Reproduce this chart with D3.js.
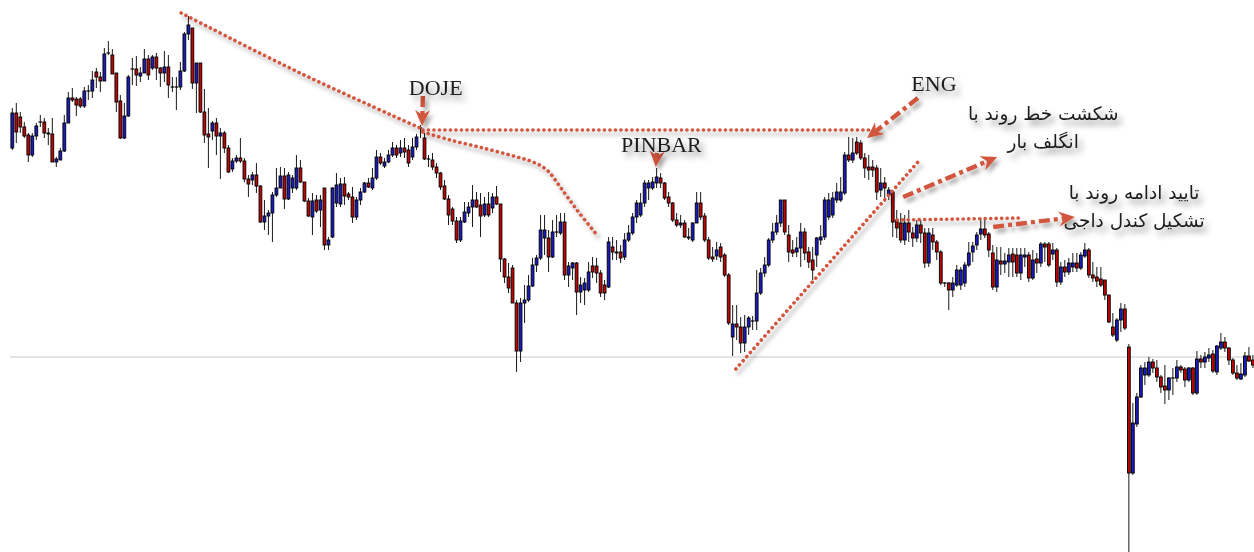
<!DOCTYPE html>
<html>
<head>
<meta charset="utf-8">
<script src="https://cdn.jsdelivr.net/npm/d3@7/dist/d3.min.js"></script>
<style>
  html, body { margin: 0; padding: 0; background: #fff; overflow: hidden; }
</style>
</head>
<body>
<div id="chart"></div>
<script>
// Candle prices (points), one entry per bar, left to right
const openP = [
  452,487,483,473,465,445,464,478,478,467, 466,438,440,449,477,502,501,501,494,509,
  509,528,523,519,547,545,527,499,462,484, 531,531,524,527,541,532,543,532,527,533,
  513,513,513,529,566,572,517,537,488,466, 469,477,464,467,452,431,439,442,439,421,
  420,425,414,378,384,387,405,412,424,401, 412,412,432,418,399,383,400,390,412,355,
  363,397,396,416,406,403,383,400,408,417, 412,422,443,434,438,445,452,447,452,450,
  443,453,472,462,441,440,433,427,414,401, 391,379,360,378,387,393,400,395,385,396,
  392,403,396,341,323,332,297,249,297,300, 314,335,342,362,362,343,368,367,378,325,
  332,337,308,310,310,334,334,327,315,313, 353,348,348,343,360,367,383,385,397,412,
  412,417,422,417,403,397,380,375,377,363, 360,377,397,384,360,343,344,353,345,325,
  263,276,273,257,273,279,279,307,327,335, 360,368,377,400,365,350,348,352,368,348,
  340,345,360,363,383,385,400,400,407,445, 440,458,457,442,433,433,432,410,417,405,
  408,380,377,360,377,367,362,375,367,337, 365,358,348,317,317,310,315,315,317,335,
  348,355,366,371,366,347,313,339,336,338, 346,345,327,343,345,322,341,337,356,356,
  346,350,318,333,328,333,337,332,344,350, 325,323,321,320,305,273,260,280,291,253,
  127,176,203,225,225,238,232,223,214,210, 222,222,233,231,220,232,207,241,238,242,
  246,228,252,258,252,240,227,221,225,244,240
]
const highP = [
  492,497,488,478,467,467,477,485,482,472, 482,443,452,485,508,512,503,503,513,515,
  529,532,528,552,559,551,527,505,497,525, 542,544,533,551,545,545,547,533,549,545,
  523,523,538,568,584,572,537,537,511,492, 479,482,472,469,455,442,445,462,442,425,
  428,437,415,400,390,408,432,433,432,428, 425,445,440,418,402,407,405,405,412,363,
  413,427,422,423,408,413,403,412,418,422, 432,450,447,442,450,458,455,460,462,455,
  462,466,475,467,445,447,437,428,420,405, 393,383,383,398,398,415,408,407,403,408,
  407,414,396,342,337,335,300,302,315,325, 342,345,385,385,370,380,385,387,387,338,
  338,338,323,322,338,343,342,330,320,363, 363,360,355,367,375,387,400,407,420,420,
  423,432,427,418,408,398,387,385,380,372, 378,408,408,387,363,353,358,357,347,327,
  295,295,283,285,284,284,330,332,343,362, 377,385,400,400,375,360,363,377,372,353,
  353,363,375,403,407,408,417,423,448,463, 462,463,460,447,445,440,435,432,423,413,
  410,390,387,385,390,373,380,380,372,372, 372,360,350,318,318,323,335,333,338,358,
  358,368,382,382,368,355,353,353,347,352, 352,352,352,352,348,350,347,358,358,358,
  357,352,338,340,342,347,347,348,357,352, 338,333,333,320,305,287,282,297,296,256,
  197,207,235,238,243,241,240,225,235,223, 232,240,235,233,233,233,249,245,248,252,
  250,255,267,263,253,242,235,237,248,253,245
]
const lowP = [
  450,457,467,462,438,443,460,473,462,455, 438,433,440,448,477,498,484,492,492,500,
  502,512,508,519,545,526,488,461,461,483, 515,514,518,527,520,530,520,513,518,502,
  508,490,510,528,560,511,487,487,457,432, 460,445,421,447,427,428,437,437,418,403,
  415,407,377,370,365,358,403,412,391,400, 407,410,417,398,383,365,387,373,350,350,
  362,393,393,395,400,377,380,395,407,412, 410,420,435,432,437,443,442,443,442,433,
  440,450,462,440,433,430,422,410,400,375, 375,357,358,377,383,373,392,363,383,383,
  387,395,328,317,307,297,228,238,277,298, 313,328,340,345,328,342,363,365,320,313,
  320,285,297,295,308,322,317,303,300,312, 340,340,337,340,358,365,377,383,393,400,
  410,412,412,400,393,378,373,372,362,360, 358,377,380,358,340,338,340,338,323,275,
  244,260,247,248,265,270,270,305,323,333, 357,365,373,365,338,343,343,333,340,332,
  320,333,355,360,380,382,397,398,405,438, 437,445,440,422,420,423,400,403,398,400,
  363,362,357,355,358,353,358,357,332,333, 350,340,315,313,290,303,313,310,313,333,
  338,350,360,362,343,310,308,325,327,323, 323,323,320,333,318,320,327,333,338,333,
  340,313,315,323,325,328,328,330,342,322, 318,313,313,300,277,263,258,268,270,48,
  125,173,202,215,223,227,218,207,196,200, 205,218,227,213,218,205,205,232,232,238,
  227,225,250,248,235,225,220,220,223,238,232
]
const closeP = [
  487,468,473,464,445,464,474,478,467,466, 438,441,449,477,502,500,495,494,509,509,
  520,523,519,546,547,526,498,462,484,523, 531,525,527,541,525,543,532,527,533,515,
  513,513,529,566,575,517,537,488,465,463, 477,464,467,452,428,439,442,439,421,416,
  425,414,378,384,387,405,412,424,401,425, 422,432,418,399,384,399,389,400,355,360,
  412,415,416,404,403,383,400,408,417,413, 422,443,437,438,445,452,445,452,448,437,
  453,463,472,441,441,433,427,413,401,385, 379,360,379,388,393,400,393,384,396,385,
  403,396,341,323,312,297,249,297,300,314, 335,342,370,370,343,368,368,378,325,334,
  337,308,315,317,328,328,327,307,307,358, 348,347,342,360,367,383,397,397,417,417,
  418,423,417,402,397,380,375,377,363,362, 377,397,383,360,342,341,350,343,325,277,
  276,273,257,273,282,279,307,327,335,360, 368,377,400,368,348,347,352,368,347,338,
  330,362,363,400,400,402,408,408,445,440, 447,447,442,432,430,430,408,417,412,410,
  378,372,360,377,368,362,375,367,337,367, 358,348,317,317,310,317,330,330,335,347,
  354,365,371,365,350,313,340,336,339,345, 338,327,345,345,322,340,337,356,353,335,
  350,318,333,328,337,337,332,345,350,325, 322,319,315,305,278,265,280,291,272,127,
  177,203,232,232,238,232,223,213,210,222, 222,233,230,220,232,207,241,238,243,245,
  229,254,258,252,240,227,222,226,244,239,235
]

// horizontal reference level
const refLevel = 243

// dotted trend lines: [bar index, price] points
const dottedLines = [
  [[42.2, 587], [71.9, 527], [101.9, 472]],
  [[102.6, 468], [109.4, 460], [117.6, 452], [126.1, 443], [130.1, 438], [133.6, 430], [136.9, 413], [141.1, 390], [146.1, 365]],
  [[102.6, 470], [214.3, 470]],
  [[180.8, 231], [226.3, 438]],
  [[221.1, 380], [252.5, 382]],
]

// dash-dot arrows: from -> tip
const arrows = [
  [[102.6, 504], [102.4, 474]],
  [[161.1, 447], [160.8, 433]],
  [[226.3, 502], [213.6, 462]],
  [[222.6, 403], [246.1, 443]],
  [[245.1, 373], [265.5, 383]],
]

const latinLabels = [
  {text: "DOJE", i: 105.8, p: 505},
  {text: "PINBAR", i: 162.2, p: 448},
  {text: "ENG", i: 230.3, p: 509},
]
const persianLabels = [
  {text: "شکشت خط روند با", i: 257.6, p: 480},
  {text: "انگلف بار", i: 257.6, p: 452},
  {text: "تایید ادامه روند با", i: 280.3, p: 401},
  {text: "تشکیل کندل داجی", i: 280.3, p: 373},
]

const width = 1254, height = 552
const bullColor = "#1a1ac4", bearColor = "#c40000"
const annColor = "#d2553e"

const x = d3.scaleLinear()
  .domain([0, openP.length - 1])
  .range([12.3, 12.3 + 4.002 * (openP.length - 1)])

const y = d3.scaleLinear()
  .domain([600, 48])
  .range([0, height])

const svg = d3.select("#chart")
  .append("svg")
    .attr("width", width)
    .attr("height", height)

const defs = svg.append("defs")

const lineShadow = defs.append("filter")
  .attr("id", "lineShadow")
  .attr("x", "-20%").attr("y", "-20%")
  .attr("width", "140%").attr("height", "140%")
lineShadow.append("feDropShadow")
  .attr("dx", 3).attr("dy", 4)
  .attr("stdDeviation", 2.2)
  .attr("flood-color", "#000")
  .attr("flood-opacity", 0.35)

const textShadow = defs.append("filter")
  .attr("id", "textShadow")
  .attr("x", "-20%").attr("y", "-40%")
  .attr("width", "150%").attr("height", "190%")
textShadow.append("feDropShadow")
  .attr("dx", 4).attr("dy", 5)
  .attr("stdDeviation", 3)
  .attr("flood-color", "#000")
  .attr("flood-opacity", 0.45)

// Reference line
svg.append("line")
  .attr("x1", 10)
  .attr("x2", width)
  .attr("y1", y(refLevel))
  .attr("y2", y(refLevel))
  .attr("stroke", "#c9c9c9")
  .attr("stroke-width", 1)

// Candles
const candles = d3.range(openP.length).map(i => ({
  i, o: openP[i], h: highP[i], l: lowP[i], c: closeP[i]
}))

const bars = svg.append("g").selectAll("g.candle")
  .data(candles)
  .enter()
  .append("g")
  .classed("candle", true)

bars.append("line")
  .attr("x1", d => x(d.i))
  .attr("x2", d => x(d.i))
  .attr("y1", d => y(d.h))
  .attr("y2", d => y(d.l))
  .attr("stroke", "#1a1a1a")
  .attr("stroke-width", 1)

bars.filter(d => d.o !== d.c)
  .append("rect")
  .attr("x", d => x(d.i) - 1.4)
  .attr("width", 2.8)
  .attr("y", d => y(Math.max(d.o, d.c)))
  .attr("height", d => Math.abs(y(d.o) - y(d.c)))
  .attr("fill", d => d.c > d.o ? bullColor : bearColor)
  .attr("stroke", "#000")
  .attr("stroke-width", 0.9)

bars.filter(d => d.o === d.c)
  .append("line")
  .attr("x1", d => x(d.i) - 1.8)
  .attr("x2", d => x(d.i) + 1.8)
  .attr("y1", d => y(d.o))
  .attr("y2", d => y(d.o))
  .attr("stroke", "#000")
  .attr("stroke-width", 1.2)

// Dotted annotation lines
const pathLine = d3.line()
  .x(d => x(d[0]))
  .y(d => y(d[1]))
  .curve(d3.curveCatmullRom)

svg.append("g")
  .attr("filter", "url(#lineShadow)")
  .selectAll("path")
  .data(dottedLines)
  .enter()
  .append("path")
  .attr("d", pathLine)
  .attr("fill", "none")
  .attr("stroke", annColor)
  .attr("stroke-width", 3.6)
  .attr("stroke-linecap", "round")
  .attr("stroke-dasharray", "0.1 5.4")

// Dash-dot arrows
const arrowGroup = svg.append("g")
  .attr("filter", "url(#lineShadow)")

arrows.forEach(([from, tip]) => {
  const x0 = x(from[0]), y0 = y(from[1])
  const x1 = x(tip[0]), y1 = y(tip[1])
  const ang = Math.atan2(y1 - y0, x1 - x0)
  const headLen = 15
  const ex = x1 - Math.cos(ang) * (headLen - 4)
  const ey = y1 - Math.sin(ang) * (headLen - 4)

  arrowGroup.append("line")
    .attr("x1", x0).attr("y1", y0)
    .attr("x2", ex).attr("y2", ey)
    .attr("stroke", annColor)
    .attr("stroke-width", 4.4)
    .attr("stroke-dasharray", "11 4 4 4")

  arrowGroup.append("path")
    .attr("d", "M0,0 L-16,-7.5 L-11,0 L-16,7.5 Z")
    .attr("fill", annColor)
    .attr("transform", `translate(${x1},${y1}) rotate(${ang * 180 / Math.PI})`)
})

// Labels
svg.append("g")
  .attr("filter", "url(#textShadow)")
  .selectAll("text")
  .data(latinLabels)
  .enter()
  .append("text")
  .attr("x", d => x(d.i))
  .attr("y", d => y(d.p))
  .attr("text-anchor", "middle")
  .attr("font-family", "'Liberation Serif', 'DejaVu Serif', serif")
  .attr("font-size", 22)
  .attr("fill", "#1e1e1e")
  .text(d => d.text)

svg.append("g")
  .attr("filter", "url(#textShadow)")
  .selectAll("text")
  .data(persianLabels)
  .enter()
  .append("text")
  .attr("x", d => x(d.i))
  .attr("y", d => y(d.p))
  .attr("text-anchor", "middle")
  .attr("direction", "rtl")
  .attr("font-family", "'DejaVu Sans', sans-serif")
  .attr("font-size", 18.5)
  .attr("letter-spacing", 0.5)
  .attr("fill", "#1e1e1e")
  .text(d => d.text)
</script>
</body>
</html>
